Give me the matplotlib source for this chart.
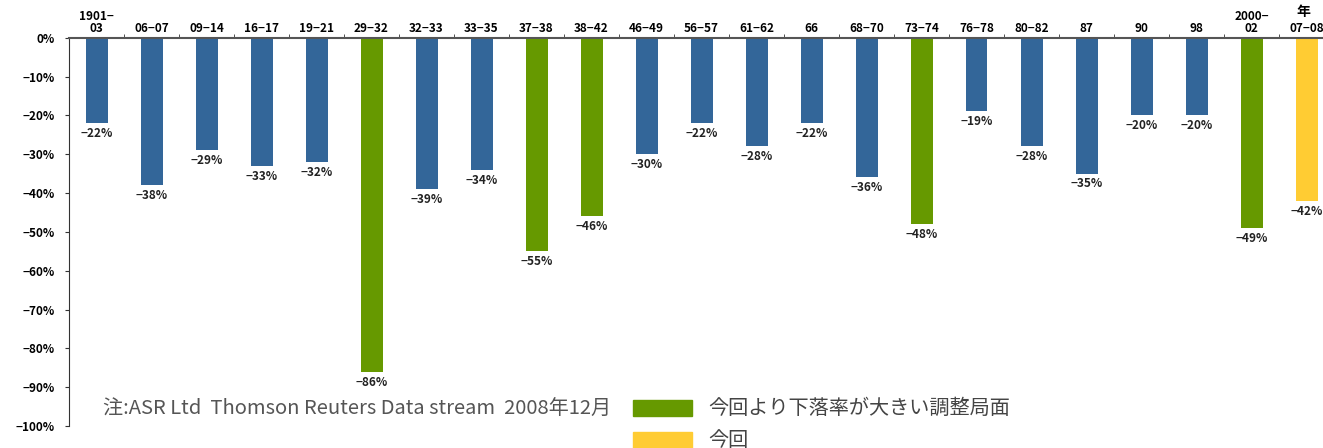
import numpy as np
import matplotlib.pyplot as plt
from matplotlib.patches import Rectangle

plt.rcParams['font.family'] = ['Noto Sans CJK JP', 'DejaVu Sans']

periods = ["1901−\n03", "06−07", "09−14", "16−17", "19−21", "29−32", "32−33", "33−35",
           "37−38", "38−42", "46−49", "56−57", "61−62", "66", "68−70", "73−74",
           "76−78", "80−82", "87", "90", "98", "2000−\n02", "07−08"]
declines = [-22, -38, -29, -33, -32, -86, -39, -34, -55, -46, -30, -22, -28, -22,
            -36, -48, -19, -28, -35, -20, -20, -49, -42]
kinds = ["n", "n", "n", "n", "n", "g", "n", "n", "g", "g", "n", "n", "n", "n",
         "n", "g", "n", "n", "n", "n", "n", "g", "y"]
y_ticks = [0, -10, -20, -30, -40, -50, -60, -70, -80, -90, -100]

colors = {"n": "#336699", "g": "#669900", "y": "#FFCC33"}

fig = plt.figure(figsize=(13.23, 4.48), dpi=100)
ax = fig.add_axes([69 / 1323, 1 - 426 / 448, 23 * 55 / 1323, (426 - 37.7) / 448])

x = np.arange(len(periods))
ax.bar(x, declines, width=0.4, color=[colors[k] for k in kinds])

# percentage labels under each bar
for xi, v in zip(x, declines):
    ax.text(xi, v - 1.0, f"−{abs(v)}%", ha="center", va="top", fontsize=8.5,
            fontweight="bold", color="#222222")

ax.set_xlim(-0.5, len(periods) - 0.5)
ax.set_ylim(-100, 0)

ax.xaxis.tick_top()
ax.set_xticks(x)
ax.set_xticklabels(periods, fontsize=8.5, fontweight="bold", linespacing=0.9)
ax.set_xticks(np.arange(len(periods)) + 0.5, minor=True)
ax.tick_params(axis="x", which="major", length=0, pad=2)
ax.tick_params(axis="x", which="minor", length=3, direction="out", color="#333333")

ax.set_yticks(y_ticks)
ax.set_yticklabels([f"−{abs(t)}%" if t else "0%" for t in y_ticks],
                   fontsize=8.5, fontweight="bold")
ax.tick_params(axis="y", length=3, direction="out", color="#333333", pad=7)

for s in ["right", "bottom"]:
    ax.spines[s].set_visible(False)
ax.spines["top"].set_color("#555555")
ax.spines["top"].set_linewidth(1.5)
ax.spines["left"].set_color("#333333")

fig.text(1303 / 1323, 1 - 12 / 448, "年", ha="center", va="center", fontsize=10,
         fontweight="bold")

fig.text(103 / 1323, 1 - 409 / 448, "注:ASR Ltd  Thomson Reuters Data stream  2008年12月",
         ha="left", va="center", fontsize=14.5, color="#555555")

fig.patches.append(Rectangle((633 / 1323, 1 - 416 / 448), 59 / 1323, 16 / 448,
                             transform=fig.transFigure, color=colors["g"]))
fig.patches.append(Rectangle((633 / 1323, 1 - 448 / 448), 59 / 1323, 16 / 448,
                             transform=fig.transFigure, color=colors["y"]))
fig.text(708 / 1323, 1 - 408 / 448, "今回より下落率が大きい調整局面", ha="left",
         va="center", fontsize=14.5, color="#444444")
fig.text(708 / 1323, 1 - 440 / 448, "今回", ha="left", va="center", fontsize=14.5,
         color="#444444")

fig.savefig("out.png", dpi=100)
